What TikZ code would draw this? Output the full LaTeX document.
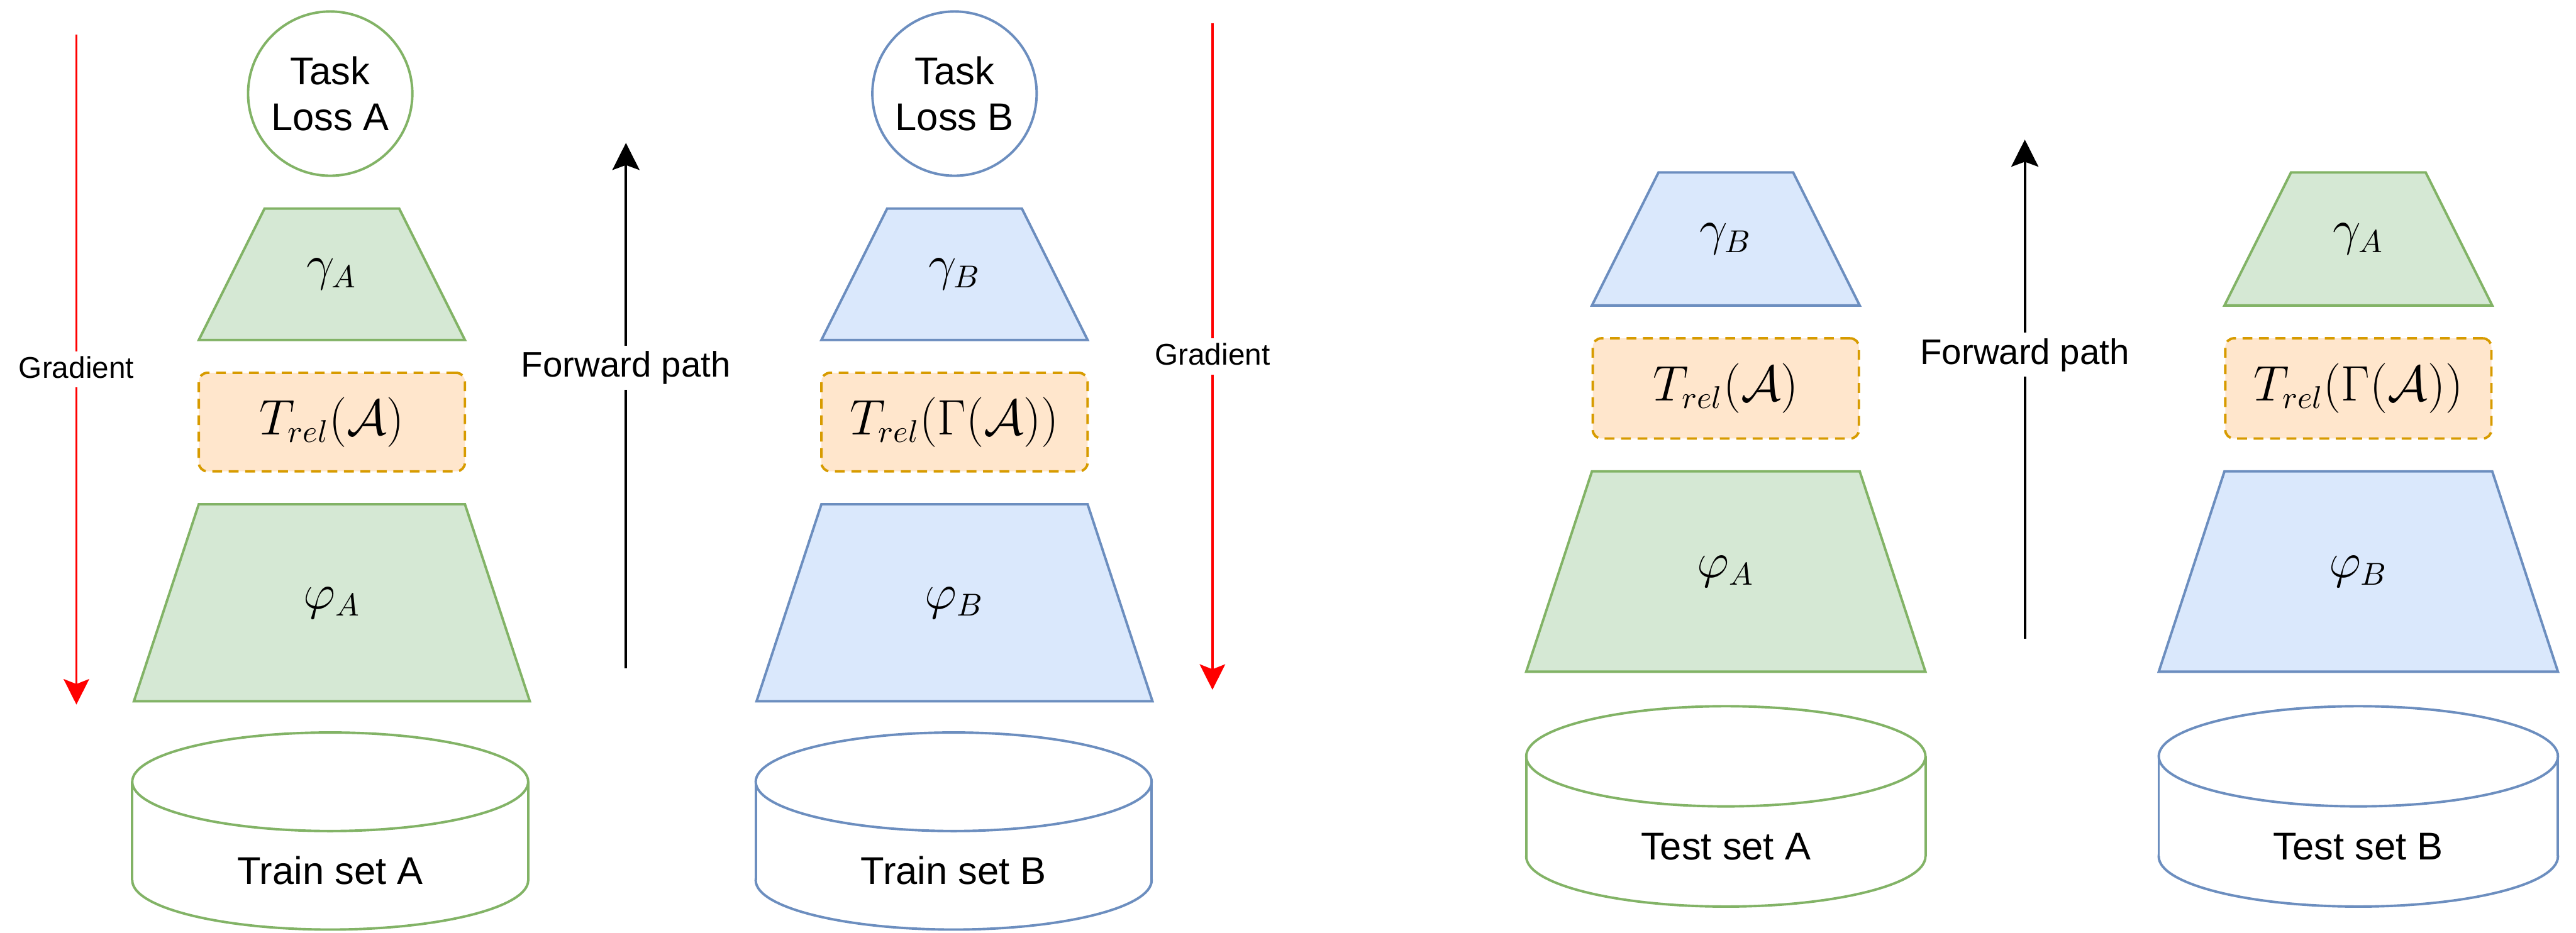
\documentclass[tikz,border=0pt]{standalone}
\usepackage[no-math]{fontspec}
\setmainfont{Liberation Sans}
\usetikzlibrary{arrows.meta}

\definecolor{grnfill}{HTML}{D5E8D4}
\definecolor{grnline}{HTML}{82B366}
\definecolor{blufill}{HTML}{DAE8FC}
\definecolor{bluline}{HTML}{6C8EBF}
\definecolor{orgfill}{HTML}{FFE6CC}
\definecolor{orgline}{HTML}{D79B00}
\definecolor{gradred}{HTML}{FF0000}

\tikzset{
  shapeline/.style={line width=0.85pt, line join=miter},
  greenpart/.style={draw=grnline, fill=grnfill},
  bluepart/.style={draw=bluline, fill=blufill},
  mathlbl/.style={font=\fontsize{16}{19}\selectfont, inner sep=0pt},
  txt/.style={font=\fontsize{13.4}{16}\selectfont, align=center, inner sep=0pt},
  relbox/.style={shapeline, draw=orgline, fill=orgfill, dash pattern=on 3.4pt off 2.3pt,
    rounded corners=3pt, minimum width=32.4mm, minimum height=12mm, inner sep=0pt,
    font=\fontsize{16}{19}\selectfont},
  lossnode/.style={circle, shapeline, fill=white, minimum size=20mm, inner sep=0pt,
    align=center, font=\fontsize{13.4}{16}\selectfont},
  gradarrow/.style={draw=gradred, line width=0.85pt,
    -{Stealth[length=3.1mm, width=3.1mm, inset=0.6mm]}},
  fwdarrow/.style={draw=black, line width=0.85pt,
    -{Stealth[length=3.3mm, width=3.3mm, inset=0.6mm]}},
  gradlbl/.style={fill=white, inner xsep=1pt, inner ysep=0.75pt, text height=8.5pt,
    text depth=2.5pt, font=\fontsize{10.4}{12.5}\selectfont},
  fwdlbl/.style={fill=white, inner xsep=1pt, inner ysep=1.1pt, text height=9.8pt,
    text depth=3.3pt, font=\fontsize{12.3}{14.8}\selectfont},
}

% trapezoid block: name, style, centre x, top y, top half-width, bottom half-width, height, label
\newcommand\trapblock[8]{%
  \draw[shapeline,#2] (#3-#5,#4) -- (#3+#5,#4) -- (#3+#6,#4+#7) -- (#3-#6,#4+#7) -- cycle;
  \node[mathlbl] (#1) at (#3,#4+#7/2) {#8};}

% data cylinder: name, colour, centre x, top y, half-width, cap radius, height, label
\newcommand\datacyl[8]{%
  \draw[shapeline,draw=#2,fill=white] (#3,#4+#7-#6) ellipse [x radius=#5, y radius=#6];
  \fill[white] (#3-#5,#4+#6) rectangle (#3+#5,#4+#7-#6);
  \draw[shapeline,draw=#2] (#3-#5,#4+#6) -- (#3-#5,#4+#7-#6) (#3+#5,#4+#6) -- (#3+#5,#4+#7-#6);
  \draw[shapeline,draw=#2,fill=white] (#3,#4+#6) ellipse [x radius=#5, y radius=#6];
  \node[txt] (#1) at (#3,#4+#7*0.7) {#8};}

\begin{document}
\begin{tikzpicture}[x=0.2mm, y=-0.2mm]
\useasboundingbox (0,0) rectangle (1568,568);

% ---------- training, model A ----------
\node[lossnode, draw=grnline] (lossA) at (201,57) {Task\\Loss A};
\trapblock{gamA}{greenpart}{202}{127}{41}{81}{80}{$\gamma_A$}
\node[relbox] (relA) at (202,257) {$T_{rel}(\mathcal{A})$};
\trapblock{phiA}{greenpart}{202}{307}{81}{120.5}{120}{$\varphi_A$}
\datacyl{trainA}{grnline}{201}{446}{120.5}{30}{120}{Train set A}

\coordinate (gradAtop) at (46.5,21);
\coordinate (gradAend) at (46.5,429);
\draw[gradarrow] (gradAtop) -- (gradAend) node[midway, gradlbl] (gradA) {Gradient};

\coordinate (fwdAbot) at (381,407);
\coordinate (fwdAtip) at (381,87);
\draw[fwdarrow] (fwdAbot) -- (fwdAtip) node[pos=0.572, fwdlbl] (fwdA) {Forward path};

% ---------- training, model B ----------
\node[lossnode, draw=bluline] (lossB) at (581,57) {Task\\Loss B};
\trapblock{gamB}{bluepart}{581}{127}{41}{81}{80}{$\gamma_B$}
\node[relbox] (relB) at (581,257) {$T_{rel}(\Gamma(\mathcal{A}))$};
\trapblock{phiB}{bluepart}{581}{307}{81}{120.5}{120}{$\varphi_B$}
\datacyl{trainB}{bluline}{580.5}{446}{120.5}{30}{120}{Train set B}

\coordinate (gradBtop) at (738,14);
\coordinate (gradBend) at (738,420);
\draw[gradarrow] (gradBtop) -- (gradBend) node[midway, gradlbl] (gradB) {Gradient};

% ---------- stitched test, encoder A / decoder B ----------
\trapblock{testGamB}{bluepart}{1050.5}{105}{41}{81.5}{81}{$\gamma_B$}
\node[relbox, minimum height=12.2mm] (testRelA) at (1050.5,236.5) {$T_{rel}(\mathcal{A})$};
\trapblock{testPhiA}{greenpart}{1050.5}{287}{81.5}{121.5}{122}{$\varphi_A$}
\datacyl{testA}{grnline}{1050.5}{430}{121.5}{30.5}{122}{Test set A}

\coordinate (fwdBbot) at (1232.5,389);
\coordinate (fwdBtip) at (1232.5,85);
\draw[fwdarrow] (fwdBbot) -- (fwdBtip) node[pos=0.569, fwdlbl] (fwdB) {Forward path};

% ---------- stitched test, encoder B / decoder A ----------
\trapblock{testGamA}{greenpart}{1435.5}{105}{41}{81.5}{81}{$\gamma_A$}
\node[relbox, minimum height=12.2mm] (testRelB) at (1435.5,236.5) {$T_{rel}(\Gamma(\mathcal{A}))$};
\trapblock{testPhiB}{bluepart}{1435.5}{287}{81.5}{121.5}{122}{$\varphi_B$}
\datacyl{testB}{bluline}{1435.5}{430}{121.5}{30.5}{122}{Test set B}
\end{tikzpicture}
\end{document}
